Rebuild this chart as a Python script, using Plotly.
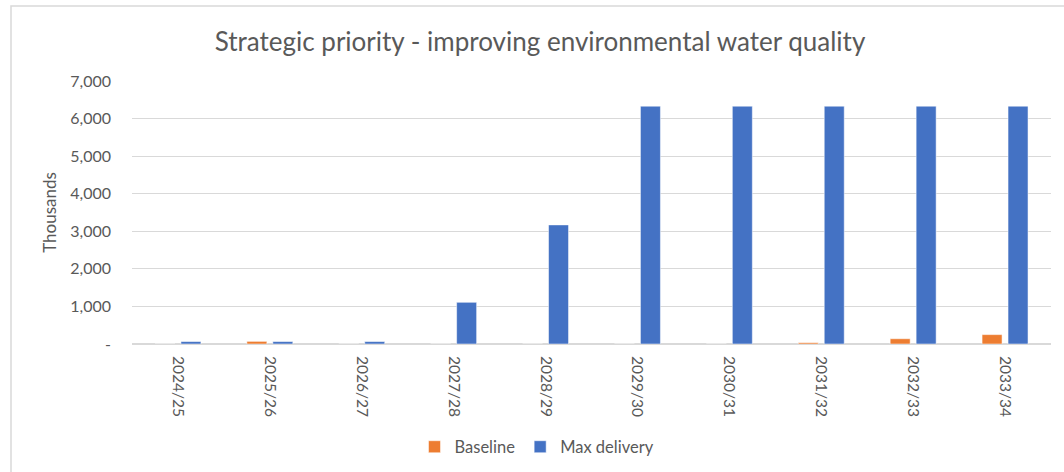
import plotly.graph_objects as go

categories = ["2024/25", "2025/26", "2026/27", "2027/28", "2028/29",
              "2029/30", "2030/31", "2031/32", "2032/33", "2033/34"]
baseline = [0, 70, 0, 0, 0, 0, 0, 35, 140, 250]
max_delivery = [65, 65, 65, 1110, 3170, 6330, 6330, 6330, 6330, 6330]
y_tick_vals = [0, 1000, 2000, 3000, 4000, 5000, 6000, 7000]
y_tick_text = ["-", "1,000", "2,000", "3,000", "4,000", "5,000", "6,000", "7,000"]

W, H = 1064, 472
L, R, T, B = 132, 13, 81, 128
pw, ph = W - L - R, H - T - B

fig = go.Figure()
fig.add_trace(go.Bar(name="Baseline", x=categories, y=baseline,
                     marker=dict(color="#ED7D31", line=dict(color="rgba(255,255,255,0.5)", width=1))))
fig.add_trace(go.Bar(name="Max delivery", x=categories, y=max_delivery,
                     marker=dict(color="#4472C4", line=dict(color="rgba(255,255,255,0.5)", width=1))))

font_family = "Lato, 'Open Sans', sans-serif"
grey = "#595959"

fig.update_layout(
    width=W, height=H,
    margin=dict(l=L, r=R, t=T, b=B, autoexpand=False),
    paper_bgcolor="white", plot_bgcolor="white",
    barmode="group", bargap=0.435, bargroupgap=0.23,
    title=dict(text="Strategic priority - improving environmental water quality",
               x=540 / W, xanchor="center", y=1 - 42 / H, yanchor="middle",
               font=dict(family=font_family, size=26, color=grey)),
    font=dict(family=font_family, size=16, color=grey),
    showlegend=True,
    legend=dict(orientation="h", xref="container", x=537 / W, xanchor="center",
                yref="container", y=(H - 447) / H, yanchor="middle",
                font=dict(size=16.5, color=grey), itemwidth=30, traceorder="normal"),
    xaxis=dict(tickangle=90, showgrid=False, showline=False, ticks="", automargin=False,
               ticklabelstandoff=11,
               tickfont=dict(size=15.5, color=grey)),
    yaxis=dict(range=[0, 7000], tickvals=y_tick_vals, ticktext=y_tick_text, automargin=False,
               showgrid=True, gridcolor="#D9D9D9", gridwidth=1,
               zeroline=True, zerolinecolor="#D9D9D9", zerolinewidth=1.5,
               showline=False, ticks="", ticklen=0, ticklabelstandoff=20,
               tickfont=dict(size=16, color=grey),
               title=dict(text="Thousands", font=dict(size=17, color=grey), standoff=9)),
    shapes=[dict(type="rect", xref="paper", yref="paper",
                 x0=(11 - L) / pw, x1=(W + 20 - L) / pw,
                 y0=(T + ph - (H + 20)) / ph, y1=(T + ph - 6) / ph,
                 line=dict(color="#D9D9D9", width=1.5), fillcolor="rgba(0,0,0,0)", layer="below")],
)

fig.write_html("out.html")
